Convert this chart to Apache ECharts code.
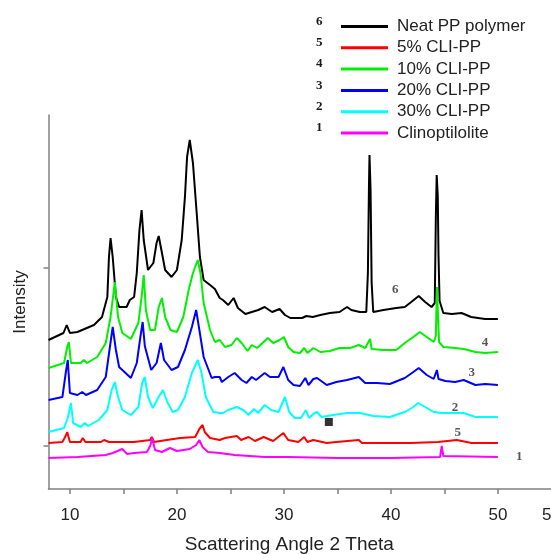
<!DOCTYPE html>
<html>
<head>
<meta charset="utf-8">
<script src="https://cdn.jsdelivr.net/npm/echarts@6/dist/echarts.min.js"></script>
<style>html,body{margin:0;padding:0;background:#fff;}#c{width:551px;height:554px;}</style>
</head>
<body>
<div id="c"></div>
<script>
// ---- data (x = 2θ in degrees, y = intensity in arbitrary stacked units) ----
const seriesNames = ['Neat PP polymer', '5% CLI-PP', '10% CLI-PP', '20% CLI-PP', '30% CLI-PP', 'Clinoptilolite'];
const seriesNumbers = ['6', '5', '4', '3', '2', '1'];
const seriesColors = ['#000000', '#ff0000', '#00f000', '#0000ff', '#00ffff', '#ff00ff'];

const neatPP = [[8.0,106],[9.4,113],[9.7,121],[10.0,113],[10.7,114],[12.25,121],[13.0,129],[13.5,149],[13.65,189],[13.8,208],[14.0,189],[14.3,149],[14.6,139],[15.3,139],[15.6,146],[16.0,149],[16.25,173],[16.5,216],[16.7,236],[16.9,206],[17.3,176],[17.8,183],[18.1,203],[18.3,210],[18.55,196],[18.9,176],[19.5,169],[20.0,176],[20.45,206],[20.75,249],[20.95,289],[21.2,306],[21.5,283],[21.85,233],[22.15,189],[22.5,166],[23.1,161],[23.55,157],[24.0,148],[24.3,146],[24.8,141],[25.3,148],[25.7,138],[26.4,132],[27.0,134],[27.6,136],[28.2,139],[28.9,134],[29.6,137],[30.1,131],[30.6,128],[31.7,128],[32.1,130],[32.7,129],[33.4,131],[34.3,133],[35.2,134],[35.9,139],[36.3,136],[37.1,134],[37.7,134],[37.85,173],[37.95,260],[38.0,291],[38.1,256],[38.2,163],[38.35,134],[39.3,136],[40.5,138],[41.3,139],[41.9,144],[42.6,150],[43.2,144],[43.8,139],[44.1,143],[44.2,229],[44.28,271],[44.38,250],[44.45,190],[44.55,145],[44.9,133],[45.7,132],[46.6,133],[47.5,129],[48.8,127],[50.0,127]];
const cli5 = [[8.0,3],[9.3,4],[9.6,10],[9.75,14],[10.0,4],[11.0,4],[11.2,8],[11.45,4],[12.9,4],[13.2,6],[13.65,4],[16.0,4],[17.5,6],[17.65,9],[17.85,4],[19.05,6],[20.3,8],[21.7,9],[22.1,17],[22.4,21],[22.6,14],[23.1,8],[24.0,6],[24.5,8],[25.6,10],[26.0,6],[26.7,9],[27.3,5],[28.1,9],[29.0,5],[29.95,13],[30.4,6],[31.35,4],[31.9,9],[32.2,4],[32.75,6],[34.0,3],[34.9,4],[37.0,6],[37.3,3],[39.3,3],[41.8,3],[44.4,4],[46.15,6],[47.55,3],[50.0,3]];
const cli10 = [[8.0,78],[9.45,83],[9.75,99],[9.9,104],[10.1,83],[11.0,83],[11.3,86],[11.6,83],[12.55,89],[13.35,103],[13.8,129],[14.2,164],[14.5,129],[14.9,113],[15.7,107],[16.4,123],[16.7,149],[16.9,171],[17.1,136],[17.5,116],[17.95,116],[18.3,139],[18.6,148],[18.9,129],[19.4,116],[20.0,114],[20.6,129],[21.1,156],[21.5,173],[21.95,186],[22.2,173],[22.5,143],[23.1,116],[23.55,104],[24.0,106],[24.5,99],[25.1,101],[25.6,108],[26.05,103],[26.6,95],[27.0,101],[27.5,98],[28.1,104],[28.5,108],[29.0,103],[29.6,106],[30.0,109],[30.4,99],[30.9,94],[31.5,93],[31.9,98],[32.2,93],[32.75,98],[33.4,94],[34.3,95],[35.2,98],[36.2,98],[37.0,101],[37.6,98],[38.05,107],[38.2,97],[39.3,96],[40.5,96],[41.3,103],[42.1,109],[42.7,114],[43.35,109],[44.0,104],[44.2,110],[44.3,159],[44.4,159],[44.5,104],[44.9,99],[46.0,98],[46.8,97],[47.9,94],[48.8,93],[50.0,94]];
const cli20 = [[8.0,46],[9.3,49],[9.65,76],[9.8,86],[10.0,53],[10.7,51],[11.15,54],[11.5,51],[12.55,56],[13.35,69],[13.7,96],[14.0,119],[14.3,96],[14.6,79],[15.7,68],[16.25,83],[16.6,110],[16.8,124],[17.0,100],[17.6,76],[18.1,83],[18.5,103],[18.8,86],[19.5,76],[20.1,79],[20.75,96],[21.4,119],[21.8,136],[22.1,116],[22.5,89],[23.25,68],[23.55,69],[24.0,69],[24.2,64],[24.8,69],[25.4,73],[26.05,66],[26.5,63],[27.0,69],[27.4,66],[28.2,73],[28.7,69],[29.5,69],[29.95,79],[30.4,66],[30.9,61],[31.5,60],[32.0,68],[32.3,61],[32.75,67],[33.1,68],[34.0,61],[34.9,64],[35.9,66],[37.0,69],[37.6,63],[38.7,63],[39.9,62],[41.3,68],[42.1,74],[42.6,78],[43.35,71],[44.0,67],[44.3,76],[44.45,67],[45.1,65],[46.0,64],[46.8,66],[47.9,61],[48.8,62],[50.0,61]];
const cli30 = [[8.0,14],[9.45,18],[9.8,28],[10.1,43],[10.3,23],[11.0,19],[11.4,23],[11.7,20],[12.7,26],[13.5,36],[13.9,56],[14.2,64],[14.5,49],[14.9,36],[15.7,31],[16.4,39],[16.75,63],[17.0,69],[17.3,49],[17.75,38],[18.3,49],[18.7,56],[19.1,44],[19.6,34],[20.1,36],[20.75,49],[21.4,73],[21.95,86],[22.3,73],[22.7,49],[23.4,34],[24.0,33],[24.3,33],[24.8,36],[25.6,39],[26.2,36],[26.7,31],[27.2,37],[27.6,33],[28.2,41],[28.8,36],[29.5,34],[30.1,49],[30.5,34],[31.0,28],[31.6,28],[32.05,36],[32.35,28],[32.85,33],[33.1,34],[33.5,29],[34.6,31],[35.9,33],[37.1,33],[38.35,30],[39.9,29],[41.3,34],[42.1,39],[42.55,43],[43.2,39],[44.0,34],[44.75,33],[45.8,33],[46.8,33],[47.9,29],[48.8,29],[50.0,29]];
const clino = [[8.0,-12],[10.7,-11],[13.35,-9],[14.0,-7],[14.9,-3],[15.35,-8],[16.0,-7],[17.2,-6],[17.5,0],[17.7,8],[17.95,-4],[18.6,-6],[19.35,-2],[20.0,-5],[21.2,-3],[21.8,1],[22.1,6],[22.4,-1],[22.9,-6],[24.0,-7],[25.4,-9],[28.2,-11],[30.4,-11],[35.0,-12],[40.0,-12],[44.6,-11],[44.75,0],[44.9,-10],[50.0,-11]];

// curve number annotations [x, y, text]
const curveLabels = [[40.4,156,'6'],[48.8,103,'4'],[47.55,73,'3'],[46.0,38,'2'],[46.25,13,'5'],[52.0,-11,'1']];
const squareMarker = [[34.2,24]];

const xTickValues = [10,15,20,25,30,35,40,45,50,55];
const xLabelValues = [10,20,30,40,50,55];
const yTickValues = [0,178];

const allData = [neatPP, cli5, cli10, cli20, cli30, clino];

// ---- chart ----
const chart = echarts.init(document.getElementById('c'), null, {renderer: 'canvas'});
const axisGray = '#808080';
const lineSeries = seriesNames.map((n, i) => ({
  name: n, type: 'line', data: allData[i], showSymbol: false, symbol: 'none',
  lineStyle: {color: seriesColors[i], width: 2}, itemStyle: {color: seriesColors[i]},
  z: 2, silent: true
}));

const legendTop = 13;
const rowH = 21.3;
const numberGraphics = seriesNumbers.map((t, i) => ({
  type: 'text', left: 316, top: legendTop + 2 + i * rowH,
  style: {text: t, font: 'bold 13px "Liberation Serif", serif', fill: '#1a1a1a'}
}));

chart.setOption({
  animation: false,
  backgroundColor: '#ffffff',
  grid: {left: 48.5, top: 115, width: 513.6, height: 374, containLabel: false, outerBoundsMode: 'none'},
  legend: {
    data: seriesNames, orient: 'vertical', left: 336, top: legendTop,
    icon: 'rect', itemWidth: 47, itemHeight: 3, itemGap: 4.3, selectedMode: false,
    textStyle: {fontFamily: '"Liberation Sans", Arial, sans-serif', fontSize: 17, color: '#222', lineHeight: 17, padding: [0,0,0,4]}
  },
  graphic: numberGraphics,
  xAxis: {
    type: 'value', min: 8, max: 56,
    name: 'Scattering Angle 2 Theta', nameLocation: 'middle', nameGap: 46,
    nameTextStyle: {fontFamily: '"Liberation Sans", Arial, sans-serif', fontSize: 19, color: '#222', padding: [0, 32, 0, 0]},
    axisLine: {show: true, onZero: false, lineStyle: {color: axisGray, width: 1.5}},
    axisTick: {show: true, customValues: xTickValues, length: 5, inside: false, lineStyle: {color: axisGray, width: 1.5}},
    axisLabel: {show: true, customValues: xLabelValues, margin: 18, fontFamily: '"Liberation Sans", Arial, sans-serif', fontSize: 17, color: '#222'},
    splitLine: {show: false}
  },
  yAxis: {
    type: 'value', min: -43, max: 331,
    name: 'Intensity', nameLocation: 'middle', nameGap: 20,
    nameTextStyle: {fontFamily: '"Liberation Sans", Arial, sans-serif', fontSize: 17, color: '#222'},
    axisLine: {show: true, onZero: false, lineStyle: {color: axisGray, width: 1.5}},
    axisTick: {show: true, customValues: yTickValues, length: 5, inside: false, lineStyle: {color: axisGray, width: 1.5}},
    axisLabel: {show: false},
    splitLine: {show: false}
  },
  series: lineSeries.concat([
    {
      name: 'labels', type: 'scatter', data: curveLabels, symbolSize: 0.1,
      itemStyle: {color: 'rgba(0,0,0,0)'}, z: 5, silent: true,
      label: {show: true, position: 'inside', formatter: p => p.data[2],
        fontFamily: '"Liberation Serif", serif', fontWeight: 'bold', fontSize: 13, color: '#2a2a35'}
    },
    {
      name: 'marker', type: 'scatter', data: squareMarker, symbol: 'rect', symbolSize: 8,
      itemStyle: {color: '#000'}, z: 5, silent: true
    }
  ])
});
</script>
</body>
</html>
